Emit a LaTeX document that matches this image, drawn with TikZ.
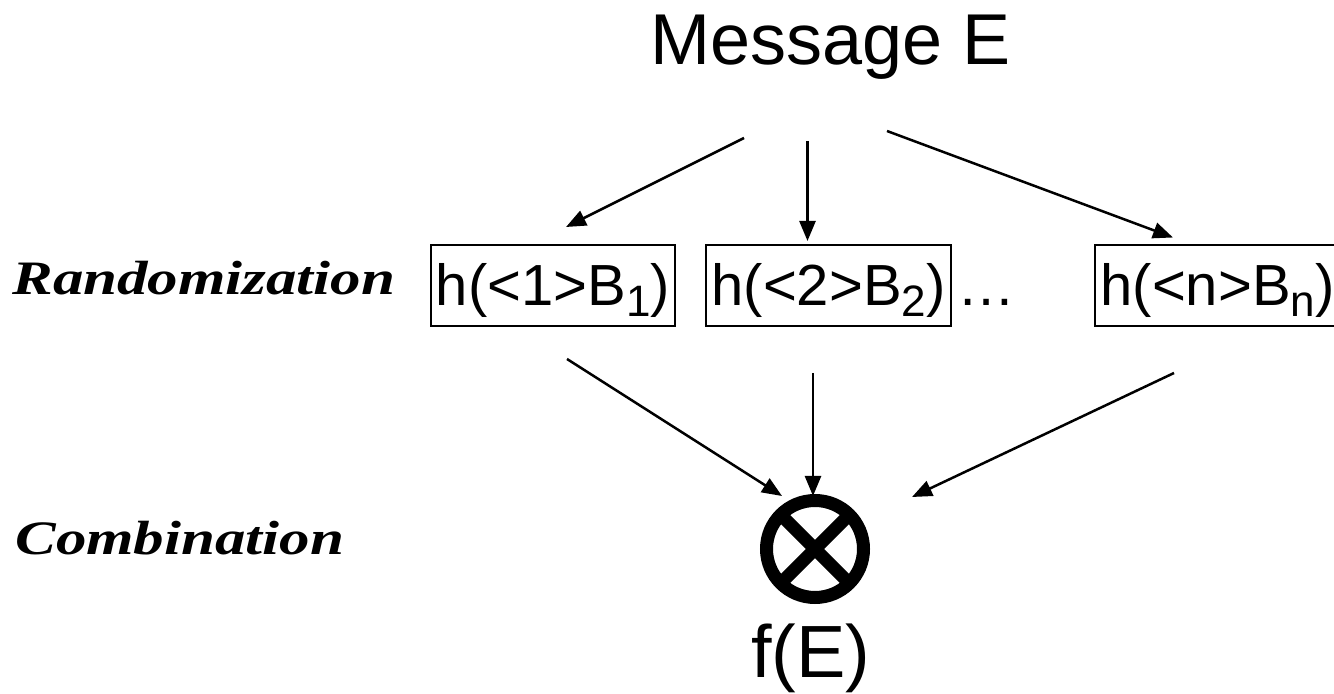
\documentclass[tikz,border=0pt]{standalone}
\usepackage{fontspec}
\setmainfont{Liberation Sans}
\newfontfamily\stagefont[FakeStretch=1.27]{Liberation Serif}
\usetikzlibrary{arrows.meta}
\newcommand{\lowidx}[1]{\raisebox{-5.5pt}{\fontsize{22}{22}\selectfont #1}}

\begin{document}
\begin{tikzpicture}[x=0.5pt,y=-0.5pt,
  >={Triangle[length=10pt,width=8pt]},
  flow/.style={->,line width=1.25pt},
  hbox/.style={draw,line width=1pt,anchor=base,inner xsep=2.5pt,inner ysep=0pt,
    text height=30.5pt,text depth=10pt,font=\fontsize{29}{32}\selectfont},
  stage/.style={anchor=base west,inner sep=0pt,
    font=\stagefont\bfseries\itshape\fontsize{24}{28}\selectfont}]

\useasboundingbox (0,0) rectangle (1334,694);

\node (msg) at (831,65)[anchor=base,inner sep=0pt,font=\fontsize{36}{40}\selectfont]{Message E};

\node (rand) at (12,295)[stage]{Randomization};
\node (combtxt) at (15,555)[stage]{Combination};

\node (h1) at (553,306)[hbox]{h(<1>B\lowidx{1})};
\node (h2) at (828.5,306)[hbox]{h(<2>B\lowidx{2})};
\node (dots) at (986,306)[anchor=base,inner sep=0pt,font=\fontsize{29}{32}\selectfont]{…};
\node (hn) at (1217.5,306)[hbox]{h(<n>B\lowidx{n})};

\node (comb) at (815,549)[circle,draw,line width=6.5pt,minimum size=48.5pt,inner sep=0pt,outer sep=0pt]{};
\draw[line width=6.5pt] (comb.north west) -- (comb.south east) (comb.north east) -- (comb.south west);

\node (fe) at (811,678)[anchor=base,inner sep=0pt,font=\fontsize{37}{40}\selectfont]{f(E)};

\coordinate (out1) at (744,138);
\coordinate (out2) at (807.5,141);
\coordinate (out3) at (887,131);
\coordinate (to1) at (566,227);
\coordinate (to2) at (807.5,241);
\coordinate (to3) at (1173,237.5);
\draw[flow] (out1) -- (to1);
\draw[flow] (out2) -- (to2);
\draw[flow] (out3) -- (to3);

\coordinate (from1) at (567,359);
\coordinate (from2) at (813,373);
\coordinate (from3) at (1174,373);
\coordinate (in1) at (782,496);
\coordinate (in2) at (813,496);
\coordinate (in3) at (912,497);
\draw[flow] (from1) -- (in1);
\draw[flow] (from2) -- (in2);
\draw[flow] (from3) -- (in3);
\end{tikzpicture}
\end{document}
